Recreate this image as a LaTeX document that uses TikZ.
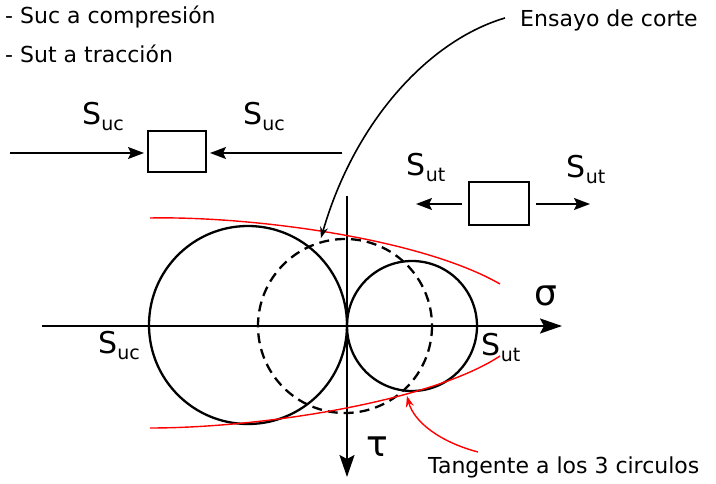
\documentclass[tikz,border=0pt]{standalone}
\usepackage{fontspec}
\setmainfont{DejaVu Sans}
\newfontfamily\greekfont{DejaVu Sans}
\usetikzlibrary{arrows.meta}
\newcommand\Slab[1]{{\fontsize{30}{30}\selectfont S}{\fontsize{19}{19}\selectfont\raisebox{-6pt}{#1}}}
\begin{document}
\begin{tikzpicture}[x=1pt,y=-1pt,
  txt/.style={inner sep=0pt,font=\fontsize{22}{26}\selectfont},
  lab/.style={inner sep=0pt},
  elbox/.style={draw,line width=2pt,minimum width=58pt,minimum height=41pt,inner sep=0pt},
  force/.style={line width=1.6pt,-{Stealth[length=16pt,width=12pt,inset=3pt]}},
  axis/.style={line width=2.2pt,-{Stealth[length=22pt,width=15pt,inset=4pt]}},
  mohr/.style={line width=2.3pt},
  env/.style={red,line width=1.4pt}]
\useasboundingbox (0,0) rectangle (716,484);
% texts
\node[txt,anchor=west] (t1) at (5,17) {- Suc a compresión};
\node[txt,anchor=west] (t2) at (5,54) {- Sut a tracción};
\node[txt,anchor=west] (t3) at (520,20) {Ensayo de corte};
\node[txt,anchor=west] (t4) at (428,467) {Tangente a los 3 circulos};
% compression element
\node[elbox] (b1) at (177,152) {};
\coordinate (c1) at (10,153);
\coordinate (c2) at (342,153);
\draw[force] (c1) -- ([xshift=-3pt]b1.west|-c1);
\draw[force] (c2) -- ([xshift=3pt]b1.east|-c2);
\node[lab] (l1) at (103,117) {\Slab{uc}};
\node[lab] (l2) at (264,117) {\Slab{uc}};
% tension element
\node[elbox,minimum width=60pt,minimum height=43pt] (b2) at (499,204) {};
\coordinate (d1) at (416,204);
\coordinate (d2) at (590,204);
\draw[force] ([xshift=-6pt]b2.west) -- (d1);
\draw[force] ([xshift=6pt]b2.east) -- (d2);
\node[lab] (l3) at (426,168) {\Slab{ut}};
\node[lab] (l4) at (586,170) {\Slab{ut}};
% axes
\coordinate (hx0) at (42,326);
\coordinate (hx1) at (562,326);
\coordinate (vy0) at (347,196);
\coordinate (vy1) at (347,477);
\draw[axis] (hx0) -- (hx1);
\draw[axis] (vy0) -- (vy1);
\node[lab,font=\greekfont\fontsize{36}{36}\selectfont] (sig) at (546,296) {σ};
\node[lab,font=\greekfont\fontsize{36}{36}\selectfont] (tau) at (377,447) {τ};
% circles
\draw[mohr] (248,325) circle[radius=99];
\draw[mohr] (412,326) circle[radius=65];
\draw[mohr,dash pattern=on 10pt off 6pt] (345,326) circle[radius=87];
\node[lab] (l5) at (119,346) {\Slab{uc}};
\node[lab] (l6) at (501,348) {\Slab{ut}};
% envelopes
\coordinate (e1) at (150,218);
\coordinate (e2) at (500,284);
\coordinate (e3) at (150,428);
\coordinate (e4) at (500,356);
\draw[env] (e1) .. controls (250,216) and (420,238) .. (e2);
\draw[env] (e3) .. controls (260,428) and (430,402) .. (e4);
% annotation arrows
\coordinate (a1) at (505,18);
\coordinate (a2) at (321,238);
\draw[line width=1.6pt,-{Stealth[length=11pt,width=8pt]}] (a1) .. controls (430,40) and (355,120) .. (a2);
\coordinate (r1) at (478,452);
\coordinate (r2) at (407,396);
\draw[red,line width=1.4pt,-{Stealth[length=11pt,width=8pt]}] (r1) .. controls (440,442) and (414,422) .. (r2);
\end{tikzpicture}
\end{document}
